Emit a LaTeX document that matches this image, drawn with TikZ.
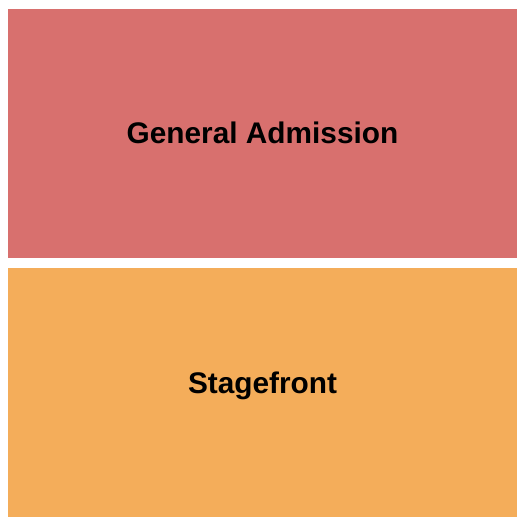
\documentclass[tikz,border=0pt]{standalone}
\usepackage{fontspec}
\setmainfont{Liberation Sans}
\usepackage{tikz}
\usetikzlibrary{positioning}

\definecolor{gapink}{HTML}{D8706E}
\definecolor{stageorange}{HTML}{F4AD5A}

\begin{document}
\begin{tikzpicture}[x=1pt, y=-1pt,
    label/.style={font=\fontsize{29.8}{29.8}\selectfont\bfseries, text=black, anchor=base, inner sep=0pt}]
    % Page frame
    \useasboundingbox (0,0) rectangle (525,525);

    % Sections
    \fill[gapink] (8,9) rectangle (517,258);
    \fill[stageorange] (8,268) rectangle (517,517);

    % Section names
    \node[label] (general) at (262.5,143.5) {General Admission};
    \node[label] (stagefront) at (262.5,393) {Stagefront};

  \end{tikzpicture}
\end{document}
